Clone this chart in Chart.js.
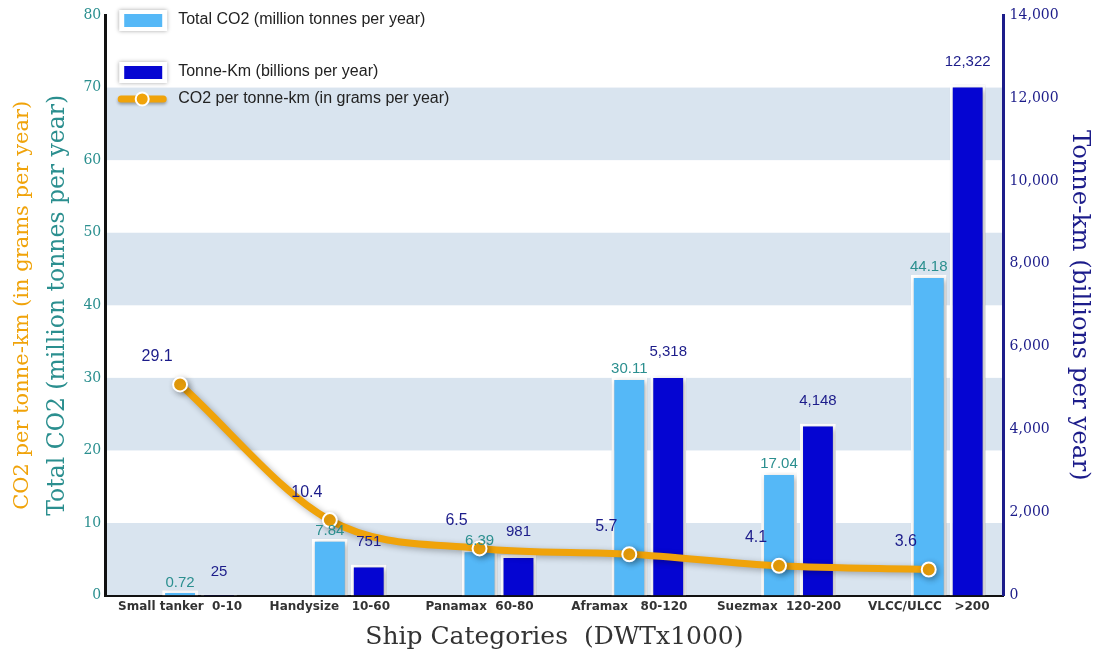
<!DOCTYPE html>
<html>
<head>
<meta charset="utf-8">
<script src="https://cdn.jsdelivr.net/npm/chart.js@4"></script>
<style>
  html, body { margin: 0; padding: 0; background: #fff; }
  #wrap { width: 1100px; height: 657px; }
</style>
</head>
<body>
<div id="wrap"><canvas id="ships"></canvas></div>
<script>
const categories = ['Small tanker  0-10', 'Handysize   10-60', 'Panamax  60-80', 'Aframax   80-120', 'Suezmax  120-200', 'VLCC/ULCC   >200'];
const totalCO2 = [0.72, 7.84, 6.39, 30.11, 17.04, 44.18];
const tonneKm = [25, 751, 981, 5318, 4148, 12322];
const co2PerTonneKm = [29.1, 10.4, 6.5, 5.7, 4.1, 3.6];
const leftTicks = [0, 80, 10];
const rightTicks = [0, 14000, 2000];

const TEAL = '#2b8f8f';
const NAVY = '#1c1c8a';
const ORANGE = '#f0a30a';
const LIGHT = '#55b8f7';
const DARK = '#0505d2';
const SERIF = '"DejaVu Serif", serif';

// striped background bands, under the axes
const bands = {
  id: 'bands',
  beforeDraw(chart) {
    const { ctx, chartArea: a, scales: { y } } = chart;
    ctx.save();
    ctx.fillStyle = '#d9e4ef';
    for (let v = 0; v < 80; v += 20) {
      const top = y.getPixelForValue(v + 10), bot = y.getPixelForValue(v);
      ctx.fillRect(a.left, top, a.right - a.left, bot - top);
    }
    ctx.restore();
  }
};

// soft shadow behind bars and the line
const shadow = {
  id: 'shadow',
  beforeDatasetDraw(chart) {
    const ctx = chart.ctx;
    ctx.save();
    ctx.shadowColor = 'rgba(0,0,0,0.3)';
    ctx.shadowBlur = 6;
    ctx.shadowOffsetX = 2;
    ctx.shadowOffsetY = 2;
  },
  afterDatasetDraw(chart) {
    chart.ctx.restore();
  }
};

// value labels
const valueLabels = {
  id: 'valueLabels',
  afterDatasetsDraw(chart) {
    const ctx = chart.ctx;
    ctx.save();
    ctx.textAlign = 'center';
    ctx.textBaseline = 'middle';
    chart.data.datasets.forEach((ds, i) => {
      const meta = chart.getDatasetMeta(i);
      if (!ds.tag) return;
      meta.data.forEach((el, j) => {
        const v = ds.data[j];
        if (ds.tag === 'co2') {
          ctx.font = '15px "Liberation Sans", Arial, sans-serif';
          ctx.fillStyle = TEAL;
          ctx.fillText(String(v), el.x, el.y - 8);
        } else if (ds.tag === 'tkm') {
          ctx.font = '15px "Liberation Sans", Arial, sans-serif';
          ctx.fillStyle = NAVY;
          ctx.fillText(v.toLocaleString('en-US'), el.x, el.y - 23);
        } else if (ds.tag === 'line') {
          ctx.font = '16px "Liberation Sans", Arial, sans-serif';
          ctx.fillStyle = NAVY;
          ctx.fillText(String(v), el.x - 23, el.y - 28);
        }
      });
    });
    ctx.restore();
  }
};

// legend inside the plot, top left
const insideLegend = {
  id: 'insideLegend',
  afterDraw(chart) {
    const { ctx, chartArea: a } = chart;
    const ds = chart.data.datasets;
    const x0 = a.left + 14;
    const rows = [
      { d: ds[2], y: a.top + 5 },
      { d: ds[3], y: a.top + 57 },
      { d: ds[0], y: a.top + 84 }
    ];
    ctx.save();
    ctx.font = '16px "Liberation Sans", Arial, sans-serif';
    ctx.textBaseline = 'middle';
    rows.forEach(r => {
      if (r.d.type === 'line') {
        ctx.save();
        ctx.shadowColor = 'rgba(0,0,0,0.3)';
        ctx.shadowBlur = 3;
        ctx.shadowOffsetY = 2;
        ctx.strokeStyle = ORANGE;
        ctx.lineWidth = 7;
        ctx.lineCap = 'round';
        ctx.beginPath();
        ctx.moveTo(x0 + 2, r.y);
        ctx.lineTo(x0 + 44, r.y);
        ctx.stroke();
        ctx.restore();
        ctx.beginPath();
        ctx.arc(x0 + 23, r.y, 6.5, 0, Math.PI * 2);
        ctx.fillStyle = ORANGE;
        ctx.fill();
        ctx.lineWidth = 2;
        ctx.strokeStyle = '#fff';
        ctx.stroke();
      } else {
        ctx.save();
        ctx.shadowColor = 'rgba(0,0,0,0.35)';
        ctx.shadowBlur = 4;
        ctx.fillStyle = '#fff';
        ctx.fillRect(x0, r.y - 10, 48, 21);
        ctx.restore();
        ctx.fillStyle = r.d.backgroundColor;
        ctx.fillRect(x0 + 5, r.y - 6, 38, 13);
      }
      ctx.fillStyle = '#222';
      ctx.fillText(r.d.label, x0 + 59, r.y);
    });
    ctx.restore();
  }
};

new Chart(document.getElementById('ships'), {
  data: {
    labels: categories,
    datasets: [
      {
        type: 'line', tag: 'line',
        label: 'CO2 per tonne-km (in grams per year)',
        data: co2PerTonneKm, yAxisID: 'y',
        borderColor: ORANGE, borderWidth: 7, cubicInterpolationMode: 'monotone',
        pointBackgroundColor: ORANGE, pointBorderColor: '#fff', pointBorderWidth: 2,
        pointRadius: 7, order: 0
      },
      {
        // empty slot so the light bar sits on the category centre
        type: 'bar', label: '', data: categories.map(() => null), yAxisID: 'y',
        backgroundColor: 'rgba(0,0,0,0)', categoryPercentage: 0.78, barPercentage: 0.92, order: 1
      },
      {
        type: 'bar', tag: 'co2',
        label: 'Total CO2 (million tonnes per year)',
        data: totalCO2, yAxisID: 'y',
        backgroundColor: LIGHT, borderColor: '#fff', borderWidth: 3,
        categoryPercentage: 0.78, barPercentage: 0.92, order: 2
      },
      {
        type: 'bar', tag: 'tkm',
        label: 'Tonne-Km (billions per year)',
        data: tonneKm, yAxisID: 'yR',
        backgroundColor: DARK, borderColor: '#fff', borderWidth: 3,
        categoryPercentage: 0.78, barPercentage: 0.92, order: 3
      }
    ]
  },
  options: {
    responsive: true,
    maintainAspectRatio: false,
    animation: false,
    layout: { padding: { top: 15, right: 2, bottom: 5, left: 10 } },
    plugins: {
      legend: { display: false },
      tooltip: { enabled: false }
    },
    scales: {
      x: {
        grid: { display: false, drawTicks: false },
        border: { color: '#111', width: 2 },
        ticks: { color: '#333', font: { family: '"DejaVu Sans", Verdana, sans-serif', size: 12, weight: 'bold' }, padding: 4 },
        title: { display: true, text: 'Ship Categories  (DWTx1000)', color: '#333', font: { family: SERIF, size: 25 }, padding: { top: 4, bottom: 0 } }
      },
      y: {
        position: 'left', min: leftTicks[0], max: leftTicks[1], weight: 0,
        grid: { display: false, drawTicks: false },
        border: { color: '#111', width: 3 },
        ticks: { stepSize: leftTicks[2], color: TEAL, font: { family: SERIF, size: 14 }, padding: 4 },
        title: { display: true, text: 'Total CO2 (million tonnes per year)', color: TEAL, font: { family: SERIF, size: 23.5 }, padding: { top: 9, bottom: 7 } }
      },
      yLine: {
        position: 'left', min: leftTicks[0], max: leftTicks[1], weight: 1,
        grid: { display: false, drawTicks: false },
        border: { display: false },
        ticks: { display: false },
        title: { display: true, text: 'CO2 per tonne-km (in grams per year)', color: ORANGE, font: { family: SERIF, size: 21 }, padding: 0 }
      },
      yR: {
        position: 'right', min: rightTicks[0], max: rightTicks[1],
        grid: { display: false, drawTicks: false },
        border: { color: NAVY, width: 3 },
        ticks: { stepSize: rightTicks[2], color: NAVY, font: { family: SERIF, size: 14 }, padding: 6,
          callback: v => v.toLocaleString('en-US') },
        title: { display: true, text: 'Tonne-km (billions per year)', color: NAVY, font: { family: SERIF, size: 24.5 }, padding: { top: 4, bottom: 0 } }
      }
    }
  },
  plugins: [bands, shadow, valueLabels, insideLegend]
});
</script>
</body>
</html>
